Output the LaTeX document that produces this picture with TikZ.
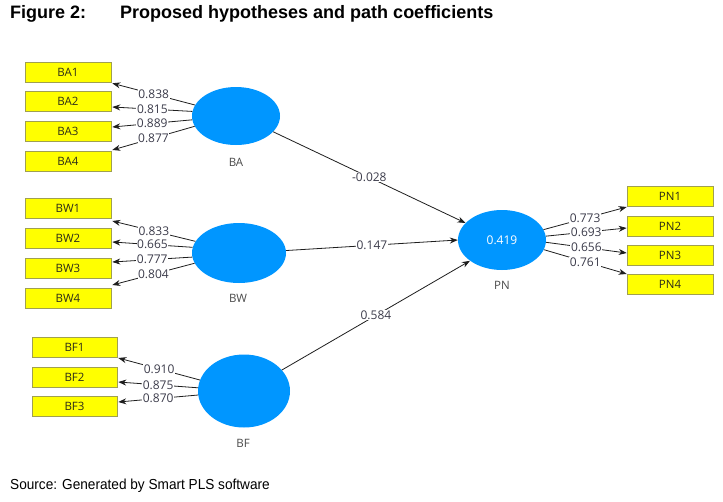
\documentclass[tikz,border=0pt]{standalone}
\usepackage{fontspec}
\setmainfont{Open Sans}
\newfontfamily\arialfont{Liberation Sans}
\usetikzlibrary{arrows.meta,shapes.geometric}
\definecolor{lvblue}{RGB}{0,150,255}
\definecolor{boxyellow}{RGB}{255,255,0}
\definecolor{boxborder}{RGB}{160,160,80}
\definecolor{boxtext}{RGB}{45,45,25}
\definecolor{linegray}{RGB}{30,30,30}
\definecolor{numgray}{RGB}{60,60,75}
\definecolor{namegray}{RGB}{75,75,75}
\begin{document}
\begin{tikzpicture}[x=1pt,y=-1pt,
  ind/.style={draw=boxborder, line width=0.6pt, fill=boxyellow, minimum width=86pt, minimum height=20pt, inner sep=0pt, font=\fontsize{11.5}{11.5}\selectfont, text=boxtext},
  lv/.style={ellipse, fill=lvblue, inner sep=0pt},
  con/.style={draw=linegray, line width=0.8pt, -{Stealth[length=8pt,width=6pt]}},
  coef/.style={fill=white, inner sep=0.6pt, text=numgray, font=\fontsize{12}{12}\selectfont},
  lvname/.style={text=namegray, font=\fontsize{11.5}{11.5}\selectfont},
  ttl/.style={anchor=base west, inner sep=0pt, font=\arialfont\bfseries\fontsize{18}{18}\selectfont},
  src/.style={anchor=base west, inner sep=0pt, font=\arialfont\fontsize{14.5}{15}\selectfont, xscale=0.94}]
\useasboundingbox (0,0) rectangle (723,501);
\fill[white] (0,0) rectangle (723,501);

% titles
\node[ttl] (fig) at (10,18.5) {Figure 2:};
\node[ttl] (ttltext) at (120,18.5) {Proposed hypotheses and path coefficients};
\node[src] (source) at (10,489) {Source: Generated by Smart PLS software};

% indicator boxes
\node[ind] (BA1) at (68,72) {BA1};
\node[ind] (BA2) at (68,101) {BA2};
\node[ind] (BA3) at (68,131) {BA3};
\node[ind] (BA4) at (68,161) {BA4};
\node[ind] (BW1) at (68,208) {BW1};
\node[ind] (BW2) at (68,238) {BW2};
\node[ind] (BW3) at (68,268) {BW3};
\node[ind] (BW4) at (68,298) {BW4};
\node[ind, minimum width=85pt] (BF1) at (74.5,347) {BF1};
\node[ind, minimum width=85pt] (BF2) at (74.5,377) {BF2};
\node[ind, minimum width=85pt] (BF3) at (74.5,406) {BF3};
\node[ind] (PN1) at (670,196.5) {PN1};
\node[ind] (PN2) at (670,226) {PN2};
\node[ind] (PN3) at (670,255) {PN3};
\node[ind] (PN4) at (670,284.5) {PN4};

% latent variables
\node[lv, minimum width=88pt, minimum height=58pt] (BA) at (236,116) {};
\node[lv, minimum width=94pt, minimum height=60pt] (BW) at (239,253) {};
\node[lv, minimum width=92pt, minimum height=73pt] (BF) at (244,391) {};
\node[lv, minimum width=88pt, minimum height=60pt, text=white, font=\fontsize{12}{12}\selectfont] (PN) at (502,240) {0.419};

\node[lvname] (BAn) at (236,162) {BA};
\node[lvname] (BWn) at (238,298) {BW};
\node[lvname] (BFn) at (243,443) {BF};
\node[lvname] (PNn) at (502,285) {PN};

% outer loadings BA
\draw[con] (BA.165.7) -- node[coef] {0.838} ([shift={(1,1)}]BA1.south east);
\draw[con] (BA.174.7) -- node[coef] {0.815} ([shift={(1,6)}]BA2.east);
\draw[con] (BA.185.3) -- node[coef] {0.889} ([shift={(1,-4)}]BA3.east);
\draw[con] (BA.194.3) -- node[coef] {0.877} ([shift={(1,-11)}]BA4.east);
% BW
\draw[con] (BW.165) -- node[coef] {0.833} ([shift={(1,13)}]BW1.east);
\draw[con] (BW.173.8) -- node[coef] {0.665} ([shift={(1,4)}]BW2.east);
\draw[con] (BW.185) -- node[coef] {0.777} ([shift={(1,-6)}]BW3.east);
\draw[con] (BW.193.7) -- node[coef] {0.804} ([shift={(1,-13)}]BW4.east);
% BF
\draw[con] (BF.166) -- node[coef] {0.910} ([shift={(1,11)}]BF1.east);
\draw[con] (BF.176) -- node[coef] {0.875} ([shift={(1,5)}]BF2.east);
\draw[con] (BF.185) -- node[coef] {0.870} ([shift={(1,-4)}]BF3.east);
% PN
\draw[con] (PN.14.7) -- node[coef] {0.773} ([shift={(0,10.5)}]PN1.west);
\draw[con] (PN.5.2) -- node[coef] {0.693} ([shift={(0,2)}]PN2.west);
\draw[con] (PN.-3.9) -- node[coef] {0.656} ([shift={(0,-2)}]PN3.west);
\draw[con] (PN.-13.4) -- node[coef] {0.761} ([shift={(0,-10.5)}]PN4.west);

% structural paths
\draw[con] (BA.-23.6) -- node[coef] {-0.028} (PN.155.3);
\draw[con] (BW.3.6) -- node[coef] {0.147} (PN.180);
\draw[con] (BF.29) -- node[coef] {0.584} (PN.213);
\end{tikzpicture}
\end{document}
